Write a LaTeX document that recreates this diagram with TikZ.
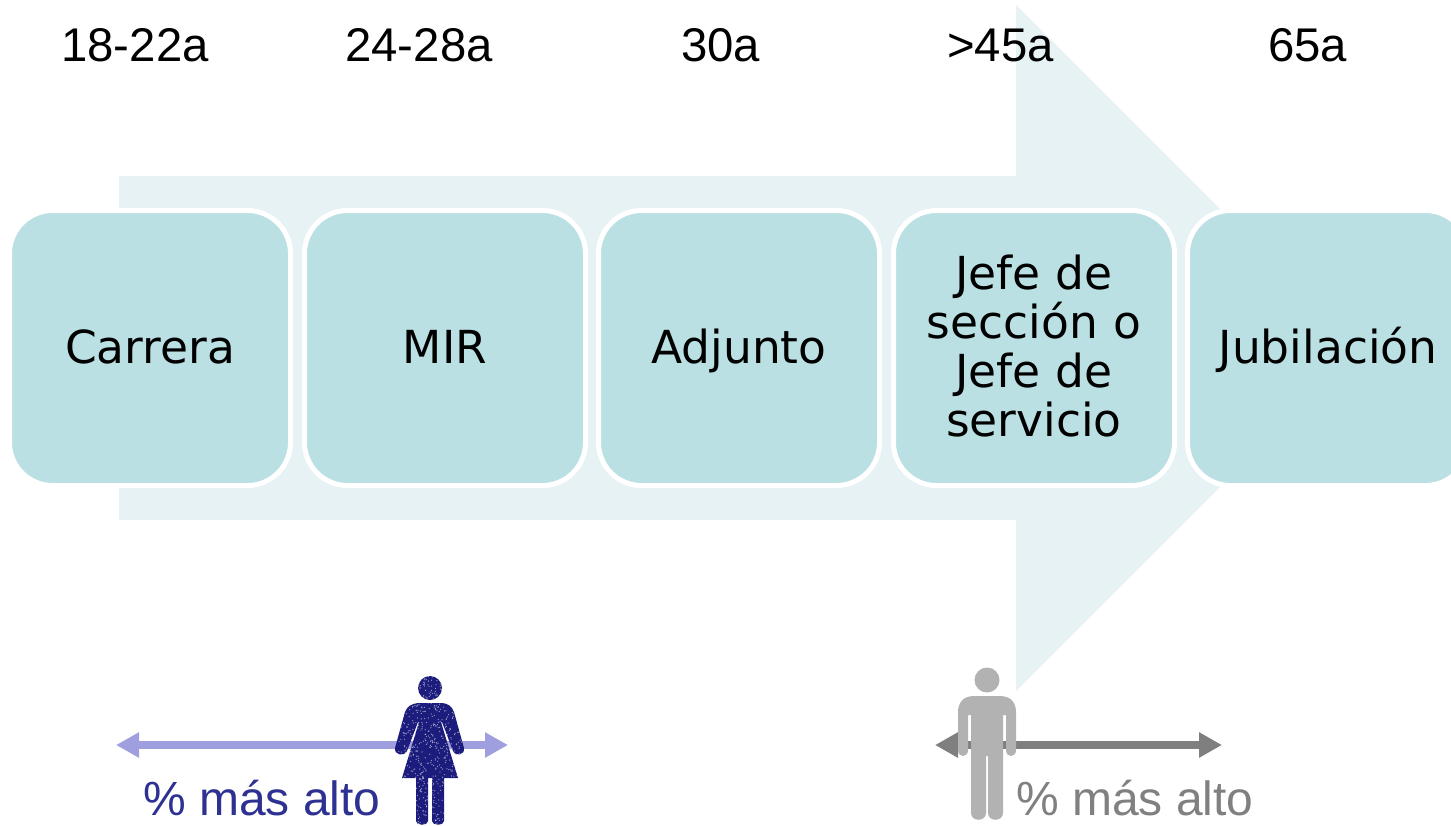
\documentclass[tikz,border=0pt]{standalone}
\usepackage{fontspec}
\setmainfont{Liberation Sans}
\newfontfamily\boxfont{DejaVu Sans}
\usetikzlibrary{arrows.meta}
\definecolor{bigarrow}{HTML}{E6F2F4}
\definecolor{boxfill}{HTML}{BAE0E3}
\definecolor{womancol}{HTML}{1C1C7C}
\definecolor{womantext}{HTML}{2E3192}
\definecolor{womanarrow}{HTML}{9F9FDF}
\definecolor{mancol}{HTML}{B2B2B2}
\definecolor{manarrow}{HTML}{7F7F7F}
\definecolor{mantext}{HTML}{808080}
\tikzset{
  x=1pt,y=-1pt,
  stagebox/.style={draw=white,line width=5pt,fill=boxfill,rounded corners=43pt,
    minimum width=281pt,minimum height=275pt,inner sep=0pt,outer sep=0pt,
    text width=270pt,align=center,
    font=\boxfont\fontsize{45.5}{49.3}\selectfont},
  oneline/.style={text height=30pt,text depth=0pt},
  agelabel/.style={anchor=base,inner sep=0pt,font=\fontsize{47.3}{50}\selectfont},
  pctlabel/.style={anchor=base west,inner sep=0pt,font=\fontsize{48}{50}\selectfont},
  womanline/.style={draw=womanarrow,line width=8pt,{Triangle[length=23pt,width=24pt]}-{Triangle[length=23pt,width=24pt]}},
  manline/.style={draw=manarrow,line width=8pt,{Triangle[length=23pt,width=24pt]}-{Triangle[length=23pt,width=24pt]}},
}
\begin{document}
\begin{tikzpicture}
\useasboundingbox (0,0) rectangle (1451,825);
\clip (0,0) rectangle (1451,825);
% big arrow
\fill[bigarrow] (119,176) -- (1016,176) -- (1016,5) -- (1359,348) -- (1016,691) -- (1016,520) -- (119,520) -- cycle;
% stages
\node[stagebox,oneline] (carrera) at (150,348) {Carrera};
\node[stagebox,oneline] (mir) at (445,348) {MIR};
\node[stagebox,oneline] (adjunto) at (739,348) {Adjunto};
\node[stagebox] (jefe) at (1034,348) {Jefe de\\secci\'on o\\Jefe de\\servicio\par\kern4pt};
\node[stagebox,oneline] (jubilacion) at (1328,348) {Jubilaci\'on};
% ages
\node[agelabel] (a1) at (135,61) {18-22a};
\node[agelabel] (a2) at (419,61) {24-28a};
\node[agelabel] (a3) at (720.5,61) {30a};
\node[agelabel] (a4) at (1000.5,61) {>45a};
\node[agelabel] (a5) at (1307.5,61) {65a};
% double arrows
\coordinate (wl) at (116,745);
\coordinate (wr) at (508,745);
\coordinate (ml) at (935,745);
\coordinate (mr) at (1222,745);
\draw[womanline] (wl) -- (wr);
\draw[manline] (ml) -- (mr);
% labels
\node[pctlabel,text=womantext] (wt) at (143,815) {\% más alto};
\node[pctlabel,text=mantext] (mt) at (1016,815) {\% más alto};
% woman
\def\womanpath{
  (430,688) circle[radius=12]
  (420,703) -- (440,703) .. controls (449,703) and (452,707) .. (454,712)
  -- (464,748) .. controls (465,755) and (456,757) .. (453,751)
  -- (442,722) -- (441,722) -- (458,778) -- (444,778) -- (444,821)
  .. controls (444,826) and (432,826) .. (432,821) -- (432,778) -- (428,778) -- (428,821)
  .. controls (428,826) and (416,826) .. (416,821) -- (416,778) -- (402,778)
  -- (419,722) -- (418,722) -- (407,751) .. controls (404,757) and (394,755) .. (395,748)
  -- (405,712) .. controls (407,707) and (411,703) .. (420,703) -- cycle
}
\fill[womancol] \womanpath;
\begin{scope}
\clip \womanpath;
\pgfmathsetseed{7}
\foreach \i in {1,...,800}{
  \pgfmathsetmacro{\px}{393+73*rnd}
  \pgfmathsetmacro{\py}{674+152*rnd}
  \fill[white,opacity=.55] (\px,\py) circle[radius=.65];
}
\end{scope}
% man
\fill[mancol] (987,680) circle[radius=12.5];
\fill[mancol] (974,696) -- (1000,696) .. controls (1011,696) and (1016,703) .. (1016,712)
  -- (1016,750) .. controls (1016,758) and (1006,758) .. (1006,750) -- (1006,715) -- (1003,715)
  -- (1003,813) .. controls (1003,822) and (988,822) .. (988,813) -- (988,756) -- (986,756)
  -- (986,813) .. controls (986,822) and (971,822) .. (971,813) -- (971,715) -- (968,715)
  -- (968,750) .. controls (968,758) and (958,758) .. (958,750) -- (958,712)
  .. controls (958,703) and (963,696) .. (974,696) -- cycle;
\end{tikzpicture}
\end{document}
